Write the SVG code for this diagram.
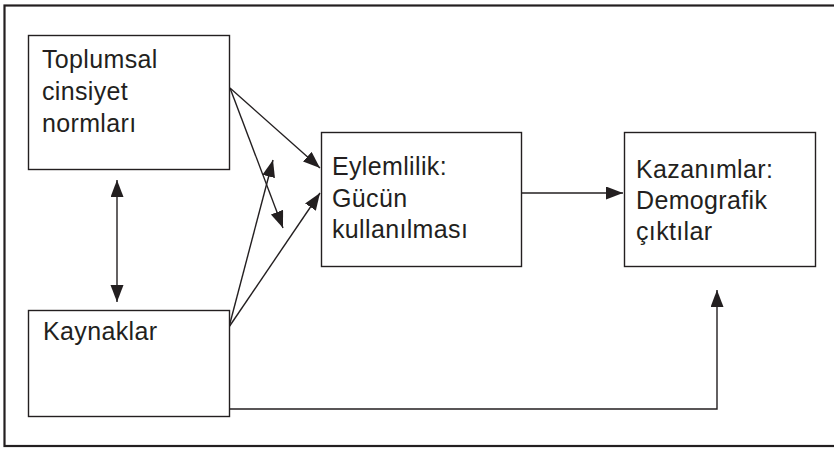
<svg xmlns="http://www.w3.org/2000/svg" width="834" height="452" viewBox="0 0 834 452">
<style>
.box{fill:#fff;stroke:#231f20;stroke-width:1.4}
.lbl{font-family:"Liberation Sans",Arial,sans-serif;font-size:25px;letter-spacing:0.35px;fill:#231f20}
.con{fill:none;stroke:#231f20;stroke-width:1.4}
</style>
<defs>
<marker id="ah" markerUnits="userSpaceOnUse" markerWidth="18" markerHeight="14" refX="17" refY="6.5" orient="auto">
<path d="M0,0 L17,6.5 L0,13 Z" fill="#231f20"/>
</marker>
<marker id="as" markerUnits="userSpaceOnUse" markerWidth="18" markerHeight="14" refX="17" refY="6.5" orient="auto-start-reverse">
<path d="M0,0 L17,6.5 L0,13 Z" fill="#231f20"/>
</marker>
</defs>
<rect x="0" y="0" width="834" height="452" fill="#fff"/>
<rect x="4.5" y="5.5" width="840" height="440.5" fill="none" stroke="#231f20" stroke-width="2.2"/>
<g id="connectors">
<line class="con" x1="230" y1="88" x2="320" y2="168" marker-end="url(#ah)"/>
<line class="con" x1="230" y1="88" x2="283" y2="228" marker-end="url(#ah)"/>
<line class="con" x1="229" y1="327" x2="273" y2="160" marker-end="url(#ah)"/>
<line class="con" x1="229" y1="327" x2="320" y2="193" marker-end="url(#ah)"/>
<line class="con" x1="117" y1="180" x2="117" y2="302" marker-start="url(#as)" marker-end="url(#ah)"/>
<line class="con" x1="522" y1="193" x2="623" y2="193" marker-end="url(#ah)"/>
<polyline class="con" points="230,409 717,409 717,290" marker-end="url(#ah)"/>
</g>
<g id="node-normlar">
<rect class="box" x="28.5" y="35.5" width="201" height="134"/>
<text class="lbl" x="42" y="68">Toplumsal</text>
<text class="lbl" x="42" y="100">cinsiyet</text>
<text class="lbl" x="42" y="132">normları</text>
</g>
<g id="node-kaynaklar">
<rect class="box" x="28.5" y="310.5" width="201" height="106"/>
<text class="lbl" x="43" y="340">Kaynaklar</text>
</g>
<g id="node-eylemlilik">
<rect class="box" x="321.5" y="132.5" width="200" height="134"/>
<text class="lbl" x="332" y="175">Eylemlilik:</text>
<text class="lbl" x="332" y="207">Gücün</text>
<text class="lbl" x="332" y="238">kullanılması</text>
</g>
<g id="node-kazanimlar">
<rect class="box" x="624.5" y="132.5" width="191" height="134"/>
<text class="lbl" x="636" y="178">Kazanımlar:</text>
<text class="lbl" x="636" y="209">Demografik</text>
<text class="lbl" x="636" y="240">çıktılar</text>
</g>
</svg>
